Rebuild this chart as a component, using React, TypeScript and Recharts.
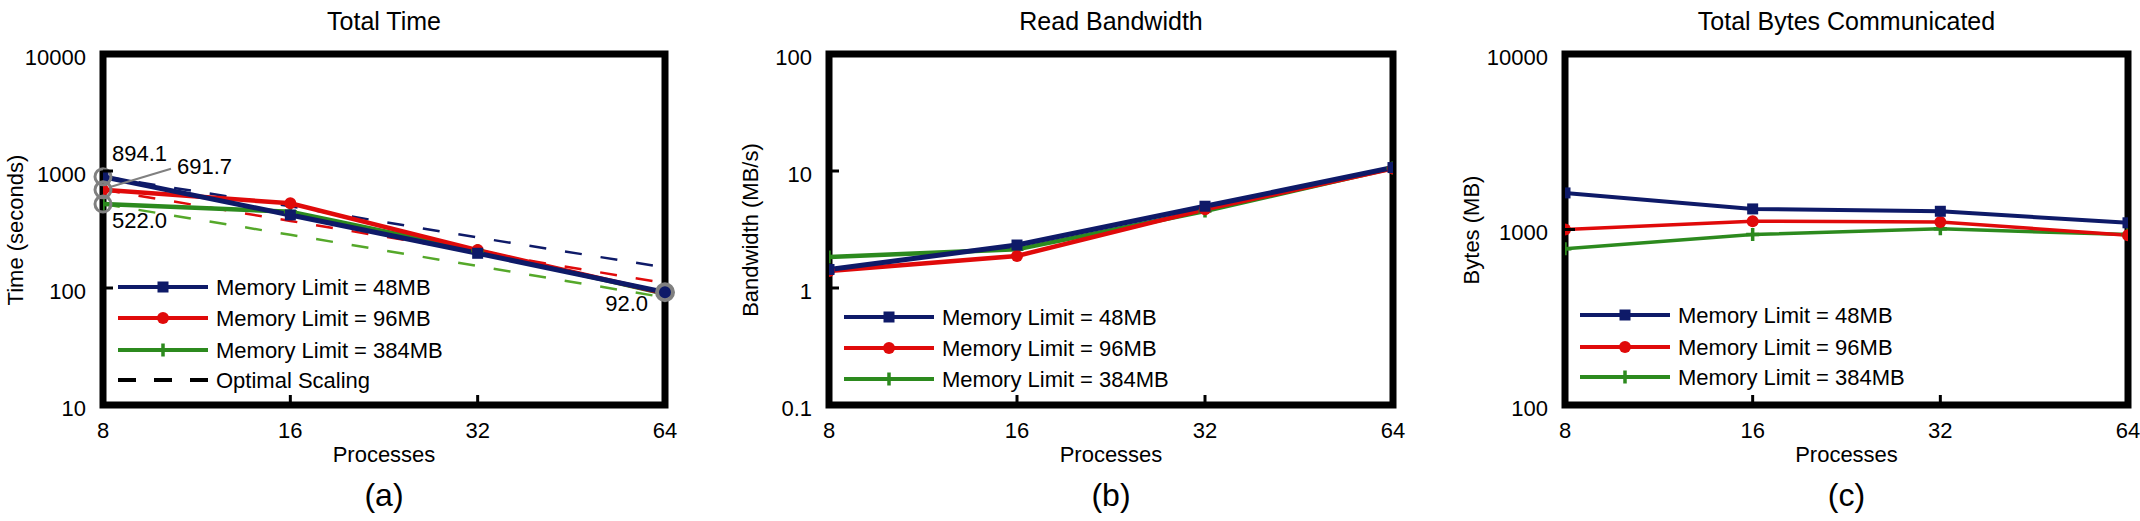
import { LineChart, Line, XAxis, YAxis, ReferenceArea, ReferenceDot } from 'recharts'

const FONT = "'Liberation Sans', Arial, sans-serif"
const NAVY = '#0e1a68'
const RED = '#e00a0a'
const GREEN = '#2c8a1e'
const LGREEN = '#55a82a'

const processes = [8, 16, 32, 64]
const procTicks = [8, 16, 32, 64]

// (a) total time, seconds
const time48 = [894.1, 421, 198, 92.0]
const time96 = [691.7, 530, 211, 90]
const time384 = [522.0, 449, 208, 89]
const optimal48 = [894.1, 499, 270, 150]
const optimal96 = [691.7, 374, 203, 110]
const optimal384 = [522.0, 285, 154, 83]
const timeTicks = [10, 100, 1000, 10000]

// (b) read bandwidth, MB/s
const bw48 = [1.44, 2.33, 5.0, 10.7]
const bw96 = [1.4, 1.88, 4.7, 10.5]
const bw384 = [1.84, 2.14, 4.55, 10.6]
const bwTicks = [0.1, 1, 10, 100]

// (c) total bytes communicated, MB
const bytes48 = [1616, 1310, 1270, 1092]
const bytes96 = [1000, 1115, 1105, 928]
const bytes384 = [777, 937, 1009, 935]
const bytesTicks = [100, 1000, 10000]

const legendLabels = ['Memory Limit = 48MB', 'Memory Limit = 96MB', 'Memory Limit = 384MB']

const timeData = processes.map((p, i) => ({
  p, m48: time48[i], m96: time96[i], m384: time384[i],
  o48: optimal48[i], o96: optimal96[i], o384: optimal384[i],
}))
const bwData = processes.map((p, i) => ({ p, m48: bw48[i], m96: bw96[i], m384: bw384[i] }))
const bytesData = processes.map((p, i) => ({ p, m48: bytes48[i], m96: bytes96[i], m384: bytes384[i] }))

const squareDot = (color: string, s: number) => (props: any) => {
  const { cx, cy, index } = props
  if (cx == null || cy == null) return <g key={index} />
  return <rect key={index} x={cx - s / 2} y={cy - s / 2} width={s} height={s} fill={color} />
}
const circleDot = (color: string, r: number) => (props: any) => {
  const { cx, cy, index } = props
  if (cx == null || cy == null) return <g key={index} />
  return <circle key={index} cx={cx} cy={cy} r={r} fill={color} />
}
const plusDot = (color: string, s: number, w: number) => (props: any) => {
  const { cx, cy, index } = props
  if (cx == null || cy == null) return <g key={index} />
  return (
    <path key={index} d={`M${cx - s / 2},${cy}H${cx + s / 2}M${cx},${cy - s / 2}V${cy + s / 2}`}
      stroke={color} strokeWidth={w} fill="none" />
  )
}

const TICK_GAP = 17

const makeYTick = (ends: number[]) => (props: any) => {
  const { x, y, payload } = props
  const left = x + TICK_GAP
  const inner = !ends.includes(payload.value)
  return (
    <g>
      {inner && <line x1={left} x2={left + 10} y1={y} y2={y} stroke="#000" strokeWidth={3} />}
      <text x={x} y={y + 3} dy="0.355em" textAnchor="end" fontSize={22} fontFamily={FONT} fill="#000">
        {payload.value}
      </text>
    </g>
  )
}

const makeXTick = (ends: number[]) => (props: any) => {
  const { x, y, payload } = props
  const bottom = y - TICK_GAP
  const inner = !ends.includes(payload.value)
  return (
    <g>
      {inner && <line x1={x} x2={x} y1={bottom} y2={bottom - 10} stroke="#000" strokeWidth={3} />}
      <text x={x} y={y} dy="0.71em" textAnchor="middle" fontSize={22} fontFamily={FONT} fill="#000">
        {payload.value}
      </text>
    </g>
  )
}

const annot = (text: string, dx: number, dy: number, anchor: 'start' | 'end', leader?: number[]) => (props: any) => {
  const vb = props.viewBox
  const cx = vb.x + vb.width / 2
  const cy = vb.y + vb.height / 2
  return (
    <g>
      {leader && (
        <line x1={cx + leader[0]} y1={cy + leader[1]} x2={cx + leader[2]} y2={cy + leader[3]}
          stroke="#808080" strokeWidth={2} />
      )}
      <text x={cx + dx} y={cy + dy} textAnchor={anchor} fontSize={22} fontFamily={FONT} fill="#000">{text}</text>
    </g>
  )
}

interface PanelProps {
  left: number
  width: number
  frameLeft: number
  frameRight: number
  data: any[]
  yTicks: number[]
  lineWidth: number
  children?: any
}

const TOP = 54
const BOTTOM = 405
const HEIGHT = 521
const XAXIS_H = 30

function Panel({ left, width, frameLeft, frameRight, data, yTicks, lineWidth, children }: PanelProps) {
  const yDomain = [yTicks[0], yTicks[yTicks.length - 1]]
  const yEnds = [yDomain[0], yDomain[1]]
  return (
    <div style={{ position: 'absolute', left, top: 0 }}>
      <LineChart width={width} height={HEIGHT} data={data} style={{ overflow: 'visible' }}
        margin={{ top: TOP, right: left + width - frameRight, bottom: HEIGHT - BOTTOM - XAXIS_H, left: 0 }}>
        <XAxis dataKey="p" type="number" scale="log" domain={[8, 64]} ticks={procTicks} allowDataOverflow
          axisLine={false} tickLine={false} tickSize={0} tickMargin={TICK_GAP} height={XAXIS_H}
          tick={makeXTick([8, 64])} interval={0} />
        <YAxis type="number" scale="log" domain={yDomain} ticks={yTicks} allowDataOverflow
          axisLine={false} tickLine={false} tickSize={0} tickMargin={TICK_GAP} width={frameLeft - left}
          tick={makeYTick(yEnds)} interval={0} />
        <ReferenceArea x1={8} x2={64} y1={yDomain[0]} y2={yDomain[1]} fill="none" stroke="#000"
          strokeWidth={7} ifOverflow="visible" />
        {children}
        <Line dataKey="m384" type="linear" stroke={GREEN} strokeWidth={lineWidth - 0.5}
          dot={plusDot(GREEN, 13, 3.5)} activeDot={false} isAnimationActive={false} />
        <Line dataKey="m96" type="linear" stroke={RED} strokeWidth={lineWidth - 0.5}
          dot={circleDot(RED, 6)} activeDot={false} isAnimationActive={false} />
        <Line dataKey="m48" type="linear" stroke={NAVY} strokeWidth={lineWidth}
          dot={squareDot(NAVY, 11)} activeDot={false} isAnimationActive={false} />
        {left === 0 && [
          <ReferenceDot key="d48" x={8} y={time48[0]} r={8} fill="none" stroke="#808080" strokeWidth={3}
            ifOverflow="visible" label={annot('894.1', 9, -16, 'start')} />,
          <ReferenceDot key="d96" x={8} y={time96[0]} r={8} fill="none" stroke="#808080" strokeWidth={3}
            ifOverflow="visible" label={annot('691.7', 74, -16, 'start', [8, -3, 68, -21])} />,
          <ReferenceDot key="d384" x={8} y={time384[0]} r={8} fill="none" stroke="#808080" strokeWidth={3}
            ifOverflow="visible" label={annot('522.0', 9, 24, 'start')} />,
          <ReferenceDot key="d64" x={64} y={time48[3]} r={8} fill={NAVY} stroke="#808080" strokeWidth={4}
            ifOverflow="visible" label={annot('92.0', -17, 19, 'end')} />,
        ]}
      </LineChart>
    </div>
  )
}

interface LegendRow { label: string; color: string; kind: 'square' | 'circle' | 'plus' | 'dash' }

function LegendBox({ frameLeft, rows, ys }: { frameLeft: number; rows: LegendRow[]; ys: number[] }) {
  const x1 = frameLeft + 15
  const x2 = frameLeft + 105
  const mx = frameLeft + 60
  return (
    <g>
      {rows.map((r, i) => {
        const y = ys[i]
        return (
          <g key={r.label}>
            {r.kind === 'dash' ? (
              <line x1={x1} x2={x2} y1={y} y2={y} stroke="#000" strokeWidth={4} strokeDasharray="18 18" />
            ) : (
              <line x1={x1} x2={x2} y1={y} y2={y} stroke={r.color} strokeWidth={4} />
            )}
            {r.kind === 'square' && <rect x={mx - 5.5} y={y - 5.5} width={11} height={11} fill={r.color} />}
            {r.kind === 'circle' && <circle cx={mx} cy={y} r={6} fill={r.color} />}
            {r.kind === 'plus' && (
              <path d={`M${mx - 6.5},${y}H${mx + 6.5}M${mx},${y - 6.5}V${y + 6.5}`} stroke={r.color} strokeWidth={3.5} />
            )}
            <text x={frameLeft + 113} y={y + 7.5} fontSize={22} fontFamily={FONT} fill="#000">{r.label}</text>
          </g>
        )
      })}
    </g>
  )
}

const memRows: LegendRow[] = [
  { label: legendLabels[0], color: NAVY, kind: 'square' },
  { label: legendLabels[1], color: RED, kind: 'circle' },
  { label: legendLabels[2], color: GREEN, kind: 'plus' },
]

const panels = [
  { frameLeft: 103, frameRight: 665, title: 'Total Time', yLabel: 'Time (seconds)', yLabelX: 15, letter: '(a)' },
  { frameLeft: 829, frameRight: 1393, title: 'Read Bandwidth', yLabel: 'Bandwidth (MB/s)', yLabelX: 750, letter: '(b)' },
  { frameLeft: 1565, frameRight: 2128, title: 'Total Bytes Communicated', yLabel: 'Bytes (MB)', yLabelX: 1471, letter: '(c)' },
]

export default function App() {
  return (
    <div style={{ position: 'fixed', left: 0, top: 0, width: 2140, height: 521, background: '#fff', overflow: 'hidden' }}>
      <Panel left={0} width={700} frameLeft={103} frameRight={665} data={timeData} yTicks={timeTicks} lineWidth={5}>
        <Line dataKey="o384" type="linear" stroke={LGREEN} strokeWidth={2.5} strokeDasharray="17 19"
          dot={false} activeDot={false} isAnimationActive={false} />
        <Line dataKey="o96" type="linear" stroke={RED} strokeWidth={2.5} strokeDasharray="17 19"
          dot={false} activeDot={false} isAnimationActive={false} />
        <Line dataKey="o48" type="linear" stroke={NAVY} strokeWidth={2.5} strokeDasharray="17 19"
          dot={false} activeDot={false} isAnimationActive={false} />
      </Panel>
      <Panel left={700} width={720} frameLeft={829} frameRight={1393} data={bwData} yTicks={bwTicks} lineWidth={5} />
      <Panel left={1420} width={720} frameLeft={1565} frameRight={2128} data={bytesData} yTicks={bytesTicks} lineWidth={4} />
      <svg width={2140} height={521} style={{ position: 'absolute', left: 0, top: 0, pointerEvents: 'none' }}>
        {panels.map((p) => {
          const cx = (p.frameLeft + p.frameRight) / 2
          return (
            <g key={p.title} fontFamily={FONT} fill="#000">
              <text x={cx} y={30} textAnchor="middle" fontSize={25}>{p.title}</text>
              <text x={cx} y={462} textAnchor="middle" fontSize={22}>Processes</text>
              <text x={cx} y={506} textAnchor="middle" fontSize={32}>{p.letter}</text>
              <text x={p.yLabelX} y={230} textAnchor="middle" dominantBaseline="central" fontSize={22}
                transform={`rotate(-90 ${p.yLabelX} 230)`}>{p.yLabel}</text>
            </g>
          )
        })}
        <LegendBox frameLeft={103} ys={[287, 318, 350, 380]}
          rows={[...memRows, { label: 'Optimal Scaling', color: '#000', kind: 'dash' }]} />
        <LegendBox frameLeft={829} ys={[317, 348, 379]} rows={memRows} />
        <LegendBox frameLeft={1565} ys={[315, 347, 377]} rows={memRows} />
      </svg>
    </div>
  )
}
